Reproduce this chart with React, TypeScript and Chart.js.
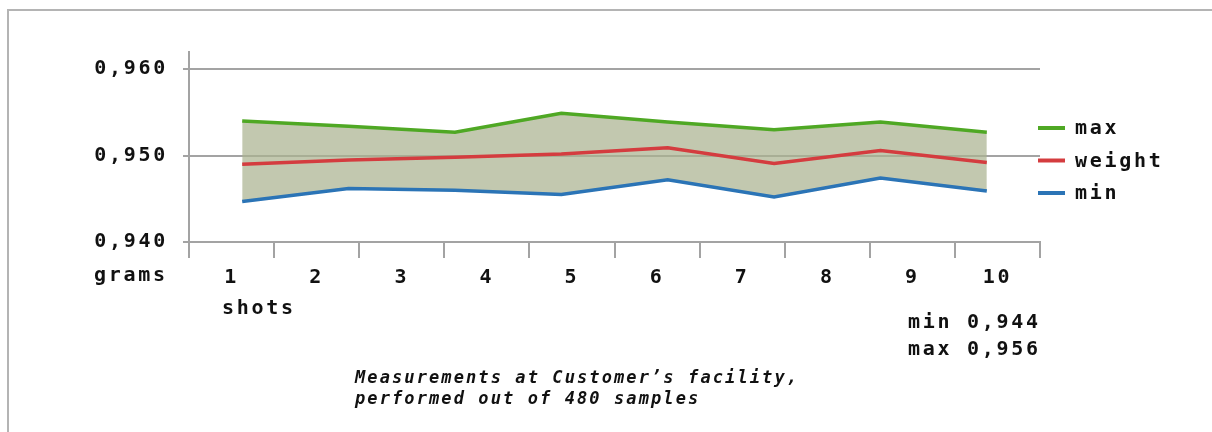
import React, { useEffect, useRef } from "react";
import { Chart, registerables } from "chart.js";

Chart.register(...registerables);

// ---- data ----
const SHOT_LABELS = ["1", "2", "3", "4", "5", "6", "7", "8", "9", "10"];
const POINT_IDS = ["p1", "p2", "p3", "p4", "p5", "p6", "p7", "p8"];
const SERIES_NAMES = ["max", "weight", "min"];
const MAX_VALUES = [0.954, 0.9534, 0.9527, 0.9549, 0.9539, 0.953, 0.9539, 0.9527];
const WEIGHT_VALUES = [0.949, 0.9495, 0.9498, 0.9502, 0.9509, 0.9491, 0.9506, 0.9492];
const MIN_VALUES = [0.9447, 0.9462, 0.946, 0.9455, 0.9472, 0.9452, 0.9474, 0.9459];
const Y_TICKS = [0.94, 0.95, 0.96];
const Y_MIN = 0.94;
const Y_MAX = 0.962;
const AXIS_TITLE_Y = "grams";
const AXIS_TITLE_X = "shots";
const RANGE_NOTES = ["min 0,944", "max 0,956"];
const CAPTION = ["Measurements at Customer\u2019s facility,", "performed out of 480 samples"];

const COLORS = ["#4fa824", "#d43c3f", "#2b74b6"];
const FILL = "rgba(170,179,144,0.72)";
const GRID = "#a3a3a3";
const INK = "#111111";
const MONO = "'DejaVu Sans Mono', monospace";
const FONT_SIZE = 20;
const SPACING = "2.7px";

const legendPlugin = {
  id: "sideLegend",
  beforeDraw(chart: any) {
    try {
      chart.ctx.letterSpacing = SPACING;
    } catch (e) {}
  },
  afterDraw(chart: any) {
    const ctx = chart.ctx;
    const left = chart.chartArea.right - 2;
    ctx.save();
    try {
      ctx.letterSpacing = SPACING;
    } catch (e) {}
    ctx.font = `bold ${FONT_SIZE}px ${MONO}`;
    ctx.textBaseline = "middle";
    ctx.textAlign = "left";
    chart.data.datasets.forEach((ds: any, i: number) => {
      const y = 128 + i * 32.5;
      ctx.strokeStyle = ds.borderColor;
      ctx.lineWidth = 4;
      ctx.lineCap = "butt";
      ctx.beginPath();
      ctx.moveTo(left, y);
      ctx.lineTo(left + 27, y);
      ctx.stroke();
      ctx.fillStyle = INK;
      ctx.fillText(ds.label, left + 37, y + 1);
    });
    ctx.restore();
  },
};

export default function App() {
  const ref = useRef<HTMLCanvasElement | null>(null);

  useEffect(() => {
    if (!ref.current) return;
    const lineDs = (label: string, data: number[], color: string, extra: any = {}) => ({
      label,
      data,
      xAxisID: "xd",
      yAxisID: "y",
      borderColor: color,
      backgroundColor: color,
      borderWidth: 3.5,
      pointRadius: 0,
      tension: 0,
      fill: false,
      ...extra,
    });
    const chart = new Chart(ref.current, {
      type: "line",
      data: {
        labels: POINT_IDS,
        datasets: [
          lineDs(SERIES_NAMES[0], MAX_VALUES, COLORS[0], { fill: 2, backgroundColor: FILL }),
          lineDs(SERIES_NAMES[1], WEIGHT_VALUES, COLORS[1]),
          lineDs(SERIES_NAMES[2], MIN_VALUES, COLORS[2]),
        ],
      },
      options: {
        responsive: false,
        animation: false,
        devicePixelRatio: 1,
        layout: { padding: { top: 52, left: 0, right: 172, bottom: 130 } },
        plugins: {
          legend: { display: false },
          tooltip: { enabled: false },
          filler: { drawTime: "beforeDatasetsDraw" },
        } as any,
        scales: {
          x: {
            type: "category",
            labels: SHOT_LABELS,
            offset: true,
            position: "bottom",
            grid: {
              offset: true,
              drawOnChartArea: false,
              drawTicks: true,
              tickLength: 16,
              color: GRID,
              lineWidth: 2,
            },
            border: { display: true, color: GRID, width: 2 },
            ticks: {
              autoSkip: false,
              maxRotation: 0,
              padding: 8,
              color: INK,
              font: { family: MONO, size: FONT_SIZE, weight: "bold" },
            },
            afterFit(s: any) {
              s.height = 60;
            },
          },
          xd: {
            type: "category",
            labels: POINT_IDS,
            offset: true,
            display: false,
            grid: { offset: true },
          },
          y: {
            type: "linear",
            min: Y_MIN,
            max: Y_MAX,
            position: "left",
            grid: { color: GRID, lineWidth: 2, tickLength: 6 },
            border: { display: true, color: GRID, width: 2 },
            ticks: {
              padding: 15,
              color: INK,
              font: { family: MONO, size: FONT_SIZE, weight: "bold" },
              callback: (v: any) => Number(v).toFixed(3).replace(".", ","),
            },
            afterBuildTicks(s: any) {
              s.ticks = Y_TICKS.map((v) => ({ value: v }));
            },
            afterFit(s: any) {
              s.width = 189;
            },
          },
        } as any,
      },
      plugins: [legendPlugin],
    });
    return () => chart.destroy();
  }, []);

  const txt: React.CSSProperties = {
    position: "absolute",
    fontFamily: MONO,
    fontWeight: "bold",
    fontSize: FONT_SIZE,
    letterSpacing: SPACING,
    lineHeight: "24px",
    color: INK,
    whiteSpace: "nowrap",
    margin: 0,
  };
  const cap: React.CSSProperties = {
    ...txt,
    fontStyle: "italic",
    fontSize: 17,
    letterSpacing: "2.1px",
    lineHeight: "21px",
  };

  return (
    <div
      style={{
        position: "fixed",
        left: 0,
        top: 0,
        width: 1212,
        height: 432,
        background: "#fff",
        overflow: "hidden",
      }}
    >
      <div style={{ position: "absolute", left: 7, top: 9, width: 1205, height: 2, background: "#b4b4b4" }} />
      <div style={{ position: "absolute", left: 7, top: 9, width: 2, height: 423, background: "#b4b4b4" }} />
      <canvas
        ref={ref}
        width={1212}
        height={432}
        style={{ position: "absolute", left: 0, top: 0, width: 1212, height: 432 }}
      />
      <div style={{ ...txt, left: 94, top: 262 }}>{AXIS_TITLE_Y}</div>
      <div style={{ ...txt, left: 222, top: 295 }}>{AXIS_TITLE_X}</div>
      <div style={{ ...txt, left: 908, top: 309 }}>{RANGE_NOTES[0]}</div>
      <div style={{ ...txt, left: 908, top: 336 }}>{RANGE_NOTES[1]}</div>
      <div style={{ ...cap, left: 355, top: 367 }}>{CAPTION[0]}</div>
      <div style={{ ...cap, left: 355, top: 388 }}>{CAPTION[1]}</div>
    </div>
  );
}
